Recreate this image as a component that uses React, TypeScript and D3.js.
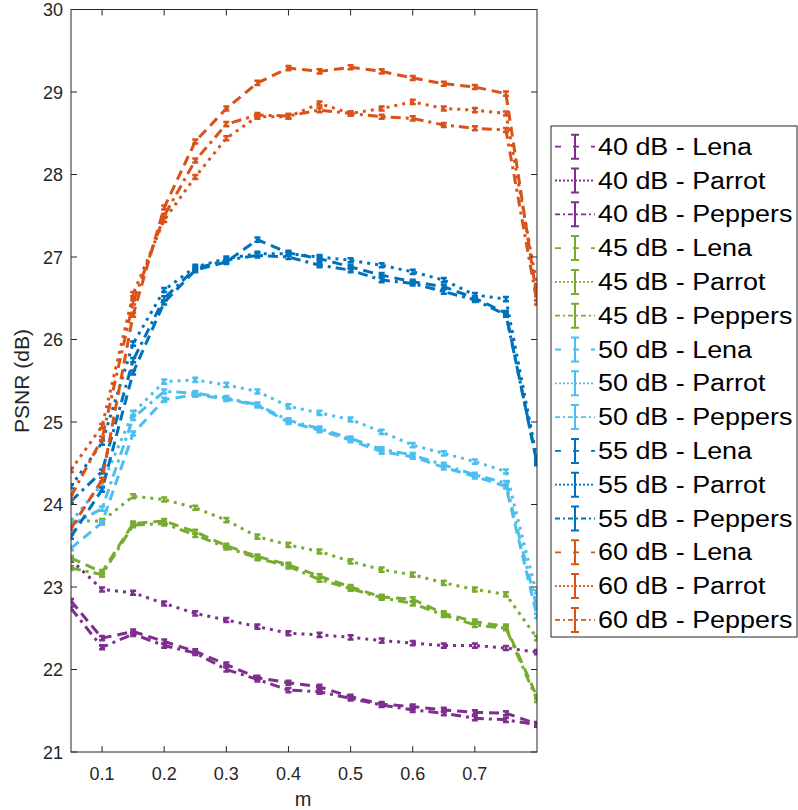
import React from 'react';
import * as d3 from 'd3';

const mValues = [0.05, 0.1, 0.15, 0.2, 0.25, 0.3, 0.35, 0.4, 0.45, 0.5, 0.55, 0.6, 0.65, 0.7, 0.75, 0.8];
const xTicks = [0.1, 0.2, 0.3, 0.4, 0.5, 0.6, 0.7];
const yTicks = [21, 22, 23, 24, 25, 26, 27, 28, 29, 30];
const noiseLevels = ['40 dB', '45 dB', '50 dB', '55 dB', '60 dB'];
const images = ['Lena', 'Parrot', 'Peppers'];
const levelColors = ['#7E2F8E', '#77AC30', '#4DBEEE', '#0072BD', '#D95319'];

const psnr40Lena = [22.83, 22.38, 22.46, 22.34, 22.22, 22.06, 21.9, 21.84, 21.79, 21.67, 21.58, 21.55, 21.51, 21.48, 21.47, 21.34];
const psnr40Parrot = [23.33, 22.97, 22.93, 22.8, 22.68, 22.6, 22.52, 22.44, 22.42, 22.39, 22.35, 22.32, 22.29, 22.29, 22.26, 22.21];
const psnr40Peppers = [22.74, 22.27, 22.43, 22.29, 22.2, 22.0, 21.88, 21.75, 21.73, 21.65, 21.57, 21.51, 21.47, 21.41, 21.39, 21.33];

const psnr45Lena = [23.35, 23.18, 23.77, 23.8, 23.67, 23.5, 23.37, 23.27, 23.13, 23.0, 22.88, 22.85, 22.68, 22.58, 22.52, 21.67];
const psnr45Parrot = [23.8, 23.8, 24.1, 24.06, 23.96, 23.81, 23.61, 23.51, 23.43, 23.31, 23.21, 23.15, 23.05, 22.97, 22.91, 22.38];
const psnr45Peppers = [23.23, 23.15, 23.75, 23.77, 23.63, 23.48, 23.35, 23.25, 23.09, 22.98, 22.87, 22.8, 22.66, 22.54, 22.5, 21.63];

const psnr50Lena = [23.47, 23.78, 24.86, 25.27, 25.33, 25.28, 25.2, 25.0, 24.9, 24.78, 24.64, 24.58, 24.45, 24.34, 24.22, 22.65];
const psnr50Parrot = [23.79, 24.25, 25.11, 25.49, 25.51, 25.45, 25.37, 25.19, 25.11, 25.03, 24.88, 24.72, 24.62, 24.52, 24.4, 22.9];
const psnr50Peppers = [23.75, 23.95, 25.05, 25.37, 25.35, 25.29, 25.21, 25.02, 24.92, 24.8, 24.67, 24.6, 24.48, 24.36, 24.26, 22.75];

const psnr55Lena = [23.61, 24.18, 25.6, 26.45, 26.84, 26.94, 27.21, 27.05, 26.98, 26.88, 26.78, 26.7, 26.64, 26.5, 26.32, 24.5];
const psnr55Parrot = [24.22, 24.75, 25.95, 26.6, 26.88, 26.98, 27.04, 27.04, 27.0, 26.96, 26.9, 26.82, 26.72, 26.54, 26.49, 24.55];
const psnr55Peppers = [24.04, 24.4, 25.75, 26.5, 26.86, 26.96, 27.02, 27.0, 26.9, 26.84, 26.72, 26.68, 26.58, 26.48, 26.3, 24.52];

const psnr60Lena = [23.71, 24.3, 26.3, 27.6, 28.4, 28.8, 29.11, 29.29, 29.25, 29.3, 29.25, 29.17, 29.1, 29.06, 28.98, 26.5];
const psnr60Parrot = [24.42, 24.95, 26.55, 27.45, 27.97, 28.44, 28.7, 28.7, 28.86, 28.74, 28.8, 28.88, 28.8, 28.78, 28.74, 26.65];
const psnr60Peppers = [24.1, 24.8, 26.45, 27.5, 28.17, 28.61, 28.72, 28.71, 28.78, 28.74, 28.7, 28.68, 28.6, 28.56, 28.54, 26.45];

const seriesValues = [
  [psnr40Lena, psnr40Parrot, psnr40Peppers],
  [psnr45Lena, psnr45Parrot, psnr45Peppers],
  [psnr50Lena, psnr50Parrot, psnr50Peppers],
  [psnr55Lena, psnr55Parrot, psnr55Peppers],
  [psnr60Lena, psnr60Parrot, psnr60Peppers],
];

const plotDash = ['10,6', '3,5', '10,5,3,5'];
const legendDash = ['6,12', '2,2', '5,3,2,3'];

const FONT = '"Liberation Sans", Arial, Helvetica, sans-serif';
const AXIS_COLOR = '#262626';

export default function App() {
  const left = 71, right = 537, top = 9.5, bottom = 752;
  const x = d3.scaleLinear().domain([0.05, 0.8]).range([left, right]);
  const y = d3.scaleLinear().domain([21, 30]).range([bottom, top]);
  const line = d3.line<number>().x((_, i) => x(mValues[i])).y((d) => y(d));

  const series: { label: string; color: string; style: number; values: number[] }[] = [];
  noiseLevels.forEach((lvl, li) => {
    images.forEach((img, ii) => {
      series.push({ label: `${lvl} - ${img}`, color: levelColors[li], style: ii, values: seriesValues[li][ii] });
    });
  });

  const tickLen = 6;
  const legX = 551, legY = 126, legW = 246, legH = 511;
  const rowH = 33.8;
  const firstRow = 146.7;

  return (
    <svg width={798} height={810} style={{ display: 'block', position: 'absolute', left: 0, top: 0 }}>
      <rect x={0} y={0} width={798} height={810} fill="#fff" />
      <defs>
        <clipPath id="plotClip">
          <rect x={left} y={top} width={right - left} height={bottom - top} />
        </clipPath>
      </defs>
      <g clipPath="url(#plotClip)">
        {series.map((s, si) => (
          <g key={si}>
            <path d={line(s.values) || ''} fill="none" stroke={s.color} strokeWidth={3} strokeDasharray={plotDash[s.style]} strokeLinejoin="round" />
            {s.values.map((v, i) => {
              const cx = x(mValues[i]);
              const y1 = y(v + 0.025), y2 = y(v - 0.025);
              return (
                <path key={i} d={`M${cx},${y1}L${cx},${y2}M${cx - 3},${y1}L${cx + 3},${y1}M${cx - 3},${y2}L${cx + 3},${y2}`} stroke={s.color} strokeWidth={2.5} fill="none" />
              );
            })}
          </g>
        ))}
      </g>
      <rect x={left} y={top} width={right - left} height={bottom - top} fill="none" stroke={AXIS_COLOR} strokeWidth={1} />
      {xTicks.map((t) => (
        <g key={t}>
          <line x1={x(t)} x2={x(t)} y1={bottom} y2={bottom - tickLen} stroke={AXIS_COLOR} />
          <line x1={x(t)} x2={x(t)} y1={top} y2={top + tickLen} stroke={AXIS_COLOR} />
          <text x={x(t)} y={780} textAnchor="middle" fontFamily={FONT} fontSize={18} fill={AXIS_COLOR}>{t}</text>
        </g>
      ))}
      {yTicks.map((t) => (
        <g key={t}>
          <line x1={left} x2={left + tickLen} y1={y(t)} y2={y(t)} stroke={AXIS_COLOR} />
          <line x1={right} x2={right - tickLen} y1={y(t)} y2={y(t)} stroke={AXIS_COLOR} />
          <text x={63} y={y(t) + 6.5} textAnchor="end" fontFamily={FONT} fontSize={18} fill={AXIS_COLOR}>{t}</text>
        </g>
      ))}
      <text x={303} y={806} textAnchor="middle" fontFamily={FONT} fontSize={20} fill={AXIS_COLOR}>m</text>
      <text transform={`translate(29,381) rotate(-90)`} textAnchor="middle" fontFamily={FONT} fontSize={21} fill={AXIS_COLOR}>PSNR (dB)</text>
      <rect x={legX} y={legY} width={legW} height={legH} fill="#fff" stroke={AXIS_COLOR} strokeWidth={1} />
      {series.map((s, si) => {
        const ry = firstRow + si * rowH;
        return (
          <g key={si}>
            <line x1={555} x2={595} y1={ry} y2={ry} stroke={s.color} strokeWidth={1.8} strokeDasharray={legendDash[s.style]} />
            <path d={`M575,${ry - 12}L575,${ry + 12}M571,${ry - 12}L579,${ry - 12}M571,${ry + 12}L579,${ry + 12}`} stroke={s.color} strokeWidth={2} fill="none" />
            <text transform={`translate(598,${ry + 8}) scale(1.17,1)`} fontFamily={FONT} fontSize={23} fill="#000">{s.label}</text>
          </g>
        );
      })}
    </svg>
  );
}
